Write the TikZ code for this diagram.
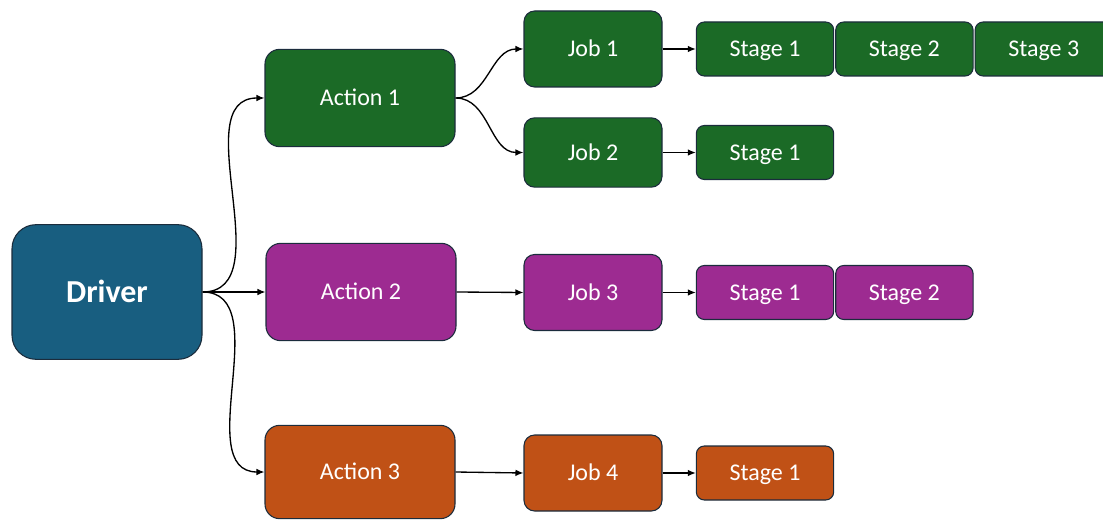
\documentclass[tikz,border=0pt]{standalone}
\usepackage{fontspec}
\setmainfont{Carlito}
\usetikzlibrary{positioning,arrows.meta}

\definecolor{drvblue}{HTML}{185E80}
\definecolor{grn}{HTML}{1B6A26}
\definecolor{purp}{HTML}{9D2B91}
\definecolor{orng}{HTML}{C05116}
\definecolor{edge}{HTML}{1B2C3C}

\tikzset{box/.style={draw=edge, line width=0.8pt, text=white, font=\fontsize{18}{21}\selectfont, inner sep=0pt, text height=11.5pt, text depth=0pt}}
\tikzset{driverbox/.style={box, rounded corners=18pt, minimum width=142.5pt, minimum height=101pt, font=\fontsize{24}{28}\selectfont\bfseries, text height=15.5pt, text depth=0pt}}
\tikzset{actionbox/.style={box, rounded corners=11pt, minimum width=142.5pt, minimum height=73pt}}
\tikzset{jobbox/.style={box, rounded corners=8pt, minimum width=103.5pt, minimum height=57pt}}
\tikzset{stagebox/.style={box, rounded corners=6pt, minimum width=103pt, minimum height=40.5pt}}
\tikzset{link/.style={-{Latex[length=6pt,width=5pt]}, line width=1pt}}

\begin{document}
\begin{tikzpicture}[x=0.75pt, y=-0.75pt]
            \useasboundingbox (0,0) rectangle (1103,520);

            % Le driver
            \node[driverbox, fill=drvblue] (drv) at (107,292) {Driver};

            % Les actions
            \node[actionbox, fill=grn] (act1) at (360,98) {Action 1};
            \node[actionbox, fill=purp] (act2) at (361,292) {Action 2};
            \node[actionbox, fill=orng, minimum height=70pt] (act3) at (360,472) {Action 3};

            % Les jobs
            \node[jobbox, fill=grn] (job1) at (593,49) {Job 1};
            \node[jobbox, fill=grn, minimum height=52pt] (job2) at (593,152.5) {Job 2};
            \node[jobbox, fill=purp] (job3) at (593,292.5) {Job 3};
            \node[jobbox, fill=orng] (job4) at (593,473) {Job 4};

            % Les stages
            \node[stagebox, fill=grn] (st11) at (765,49) {Stage 1};
            \node[stagebox, fill=grn, right=0.75pt of st11] (st12) {Stage 2};
            \node[stagebox, fill=grn, right=0.75pt of st12] (st13) {Stage 3};
            \node[stagebox, fill=grn] (st21) at (765,152.5) {Stage 1};
            \node[stagebox, fill=purp] (st31) at (765,292.5) {Stage 1};
            \node[stagebox, fill=purp, right=0.75pt of st31] (st32) {Stage 2};
            \node[stagebox, fill=orng] (st41) at (765,473) {Stage 1};

            % Les flèches
            \draw[link] (drv.east) to[out=0, in=180] (act1.west);
            \draw[link] (drv.east) -- (act2.west);
            \draw[link] (drv.east) to[out=0, in=180] (act3.west);
            \draw[link] (act1.east) to[out=0, in=180] (job1.west);
            \draw[link] (act1.east) to[out=0, in=180] (job2.west);
            \draw[link] (act2.east) -- (job3.west);
            \draw[link] (act3.east) -- (job4.west);
            \draw[link] (job1.east) -- (st11.west);
            \draw[link] (job2.east) -- (st21.west);
            \draw[link] (job3.east) -- (st31.west);
            \draw[link] (job4.east) -- (st41.west);
        \end{tikzpicture}
\end{document}
